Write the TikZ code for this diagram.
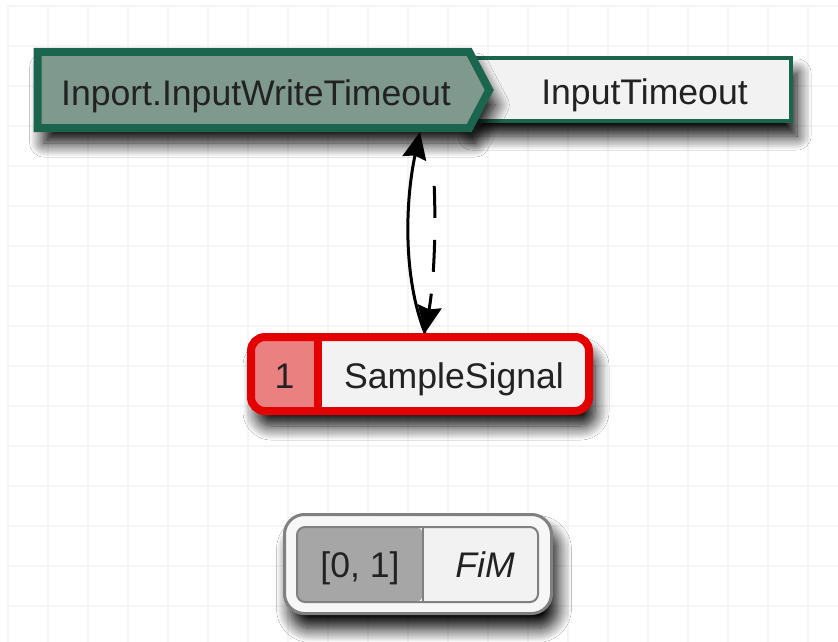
\documentclass[tikz,border=0pt]{standalone}
\usepackage{fontspec}
\setmainfont{Liberation Sans}
\usetikzlibrary{arrows.meta, shapes.symbols, shadows.blur}

\definecolor{portgreen}{RGB}{27,100,78}
\definecolor{portfill}{RGB}{127,153,143}
\definecolor{boxfill}{RGB}{242,242,242}
\definecolor{sigred}{RGB}{228,0,0}
\definecolor{sigpink}{RGB}{235,128,128}
\definecolor{rangefill}{RGB}{166,166,166}
\definecolor{framegray}{RGB}{128,128,128}
\definecolor{gridgray}{RGB}{245,245,245}
\definecolor{textgray}{RGB}{34,34,34}

\begin{document}
\begin{tikzpicture}[x=1pt, y=-1pt, >={Stealth[length=27pt, width=24pt, inset=3pt]},
    every node/.style={font=\fontsize{35.6pt}{40pt}\selectfont, text=textgray, inner sep=0pt},
    softshadow/.style={blur shadow={shadow xshift=6pt, shadow yshift=-15pt, shadow blur radius=14pt, shadow blur steps=14, shadow opacity=100}},
    gridline/.style={gridgray, line width=2.5pt},
    portsig/.style={signal, signal to=east, signal from=nowhere, signal pointer angle=124.5,
        draw=portgreen, fill=portfill, line width=8pt, softshadow},
    portbox/.style={rectangle, draw=portgreen, fill=boxfill, line width=4pt, softshadow},
    sigbox/.style={rectangle, rounded corners=14pt, draw=sigred, fill=boxfill, line width=8pt, softshadow},
    fimframe/.style={rectangle, rounded corners=20pt, draw=framegray, fill=white!97!black, line width=3pt, softshadow},
    fimbox/.style={rectangle, rounded corners=8pt, draw=framegray, fill=boxfill, line width=2pt},
    link/.style={black, line width=3pt}]
            \useasboundingbox (0,0) rectangle (838,642);
            \fill[white] (0,0) rectangle (838,642);

            % Grid
            \foreach \gx in {8,48,...,808}
                \draw[gridline] (\gx,6) -- (\gx,642);
            \foreach \gy in {6,46,...,606}
                \draw[gridline] (8,\gy) -- (838,\gy);

            % Port block
            \node[portbox, minimum width=325pt, minimum height=63pt] (timeout) at (628.5,89.5) {};
            \node[portsig, minimum width=451.5pt, minimum height=76pt] (inport) at (253.5,90) {};
            \node[anchor=base] (inportname) at (256,105) {Inport.InputWriteTimeout};
            \node[anchor=base] (timeoutname) at (644.5,104) {InputTimeout};

            % Signal block
            \node[sigbox, minimum width=338pt, minimum height=74pt,
                path picture={
                    \fill[sigpink] (path picture bounding box.north west) rectangle ([xshift=67pt]path picture bounding box.south west);
                    \draw[sigred, line width=8pt] ([xshift=67pt]path picture bounding box.north west) -- ([xshift=67pt]path picture bounding box.south west);
                }] (sample) at (420,374) {};
            \node[anchor=base] (samplenum) at (284.5,388) {1};
            \node[anchor=base] (samplename) at (454,388) {SampleSignal};

            % Range block
            \node[fimframe, minimum width=267pt, minimum height=99pt] (fim) at (418,564) {};
            \node[fimbox, minimum width=241pt, minimum height=75pt,
                path picture={
                    \fill[rangefill] (path picture bounding box.north west) rectangle ([xshift=126pt]path picture bounding box.south west);
                    \draw[framegray, line width=2pt] ([xshift=126pt]path picture bounding box.north west) -- ([xshift=126pt]path picture bounding box.south west);
                }] (fimbox) at (417.5,564.5) {};
            \node[anchor=base] (fimrange) at (360,577) {[0, 1]};
            \node[anchor=base] (fimname) at (485,577) {\itshape FiM};

            % Links
            \draw[->, link] ([xshift=5pt]sample.north) .. controls +(-22,-55) and +(-15,70) .. (inport.south -| sample.north);
            \draw[->, link, dash pattern=on 32pt off 22pt, dash phase=32pt, shorten <=32pt]
                ([xshift=10pt]inport.south -| sample.north) .. controls +(6,68) and +(11,-63) .. ([xshift=5pt]sample.north);
        \end{tikzpicture}
\end{document}
